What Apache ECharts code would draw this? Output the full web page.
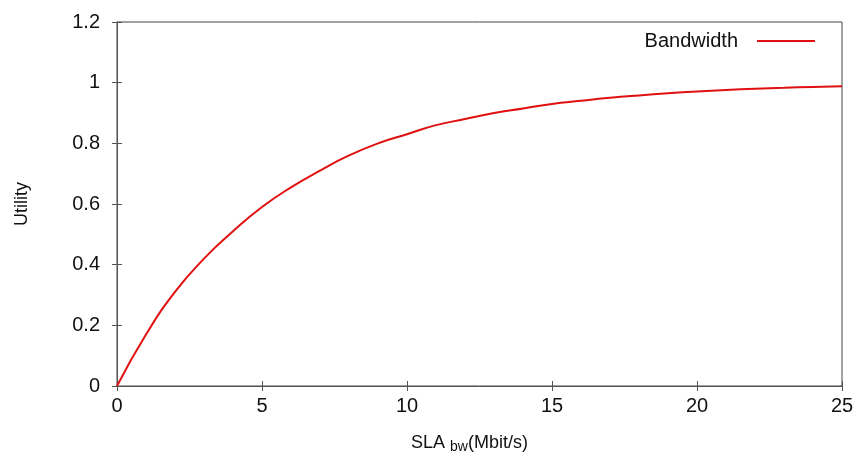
<!DOCTYPE html>
<html><head><meta charset="utf-8">
<script src="https://cdn.jsdelivr.net/npm/echarts@6/dist/echarts.min.js"></script>
<style>html,body{margin:0;padding:0;background:#fff}#c{width:857px;height:465px}</style>
</head><body><div id="c"></div>
<script>
const xValues = [0,1,2,3,4,5,6,7,8,9,10,11,12,13,14,15,16,17,18,19,20,21,22,23,24,25];
const utility = [0,0.17,0.31,0.42,0.51,0.59,0.655,0.71,0.76,0.80,0.83,0.86,0.88,0.90,0.915,0.93,0.94,0.95,0.958,0.965,0.971,0.976,0.98,0.983,0.986,0.988];
const seriesName = 'Bandwidth';
const xTicks = [0,5,10,15,20,25];
const yTicks = [0,0.2,0.4,0.6,0.8,1,1.2];

const chart = echarts.init(document.getElementById('c'));
const font = 'Liberation Sans, Arial, sans-serif';
const axisCol = '#555';
const tick = {show:true,inside:true,length:5,lineStyle:{color:axisCol}};
chart.setOption({
  animation:false,
  backgroundColor:'#fff',
  grid:{left:117,right:15,top:22,bottom:79,show:true,borderColor:'#444',borderWidth:1},
  legend:{show:true,right:37,top:26,align:'right',itemWidth:58,itemHeight:2,
    textStyle:{fontFamily:font,fontSize:20,color:'#111',padding:[0,14,0,0]},
    data:[{name:seriesName,icon:'rect'}]},
  xAxis:[{type:'value',min:0,max:25,interval:5,
    name:'{a|SLA }{b|bw}{a|(Mbit/s)}',nameLocation:'middle',nameGap:46,
    nameTextStyle:{padding:[0,20,0,0],rich:{a:{fontFamily:font,fontSize:18,color:'#111'},b:{fontFamily:font,fontSize:14,color:'#111',verticalAlign:'bottom',padding:[8,0,0,0]}}},
    axisLine:{show:true,lineStyle:{color:axisCol,width:1}},
    axisTick:tick,
    axisLabel:{fontFamily:font,fontSize:20,color:'#111',margin:10},
    splitLine:{show:false}},
   {type:'value',position:'top',min:0,max:25,interval:5,
    axisLine:{show:false},axisTick:tick,axisLabel:{show:false},splitLine:{show:false}}],
  yAxis:[{type:'value',min:0,max:1.2,interval:0.2,
    name:'Utility',nameLocation:'middle',nameGap:86,nameRotate:90,
    nameTextStyle:{fontFamily:font,fontSize:18,color:'#111'},
    axisLine:{show:true,lineStyle:{color:axisCol,width:1}},
    axisTick:tick,
    axisLabel:{fontFamily:font,fontSize:20,color:'#111',margin:17},
    splitLine:{show:false}},
   {type:'value',position:'right',min:0,max:1.2,interval:0.2,
    axisLine:{show:false},axisTick:tick,axisLabel:{show:false},splitLine:{show:false}}],
  series:[{name:seriesName,type:'line',smooth:true,showSymbol:false,
    data:xValues.map((x,i)=>[x,utility[i]]),
    lineStyle:{color:'#e01010',width:2},itemStyle:{color:'#e01010'}}]
});
</script></body></html>
